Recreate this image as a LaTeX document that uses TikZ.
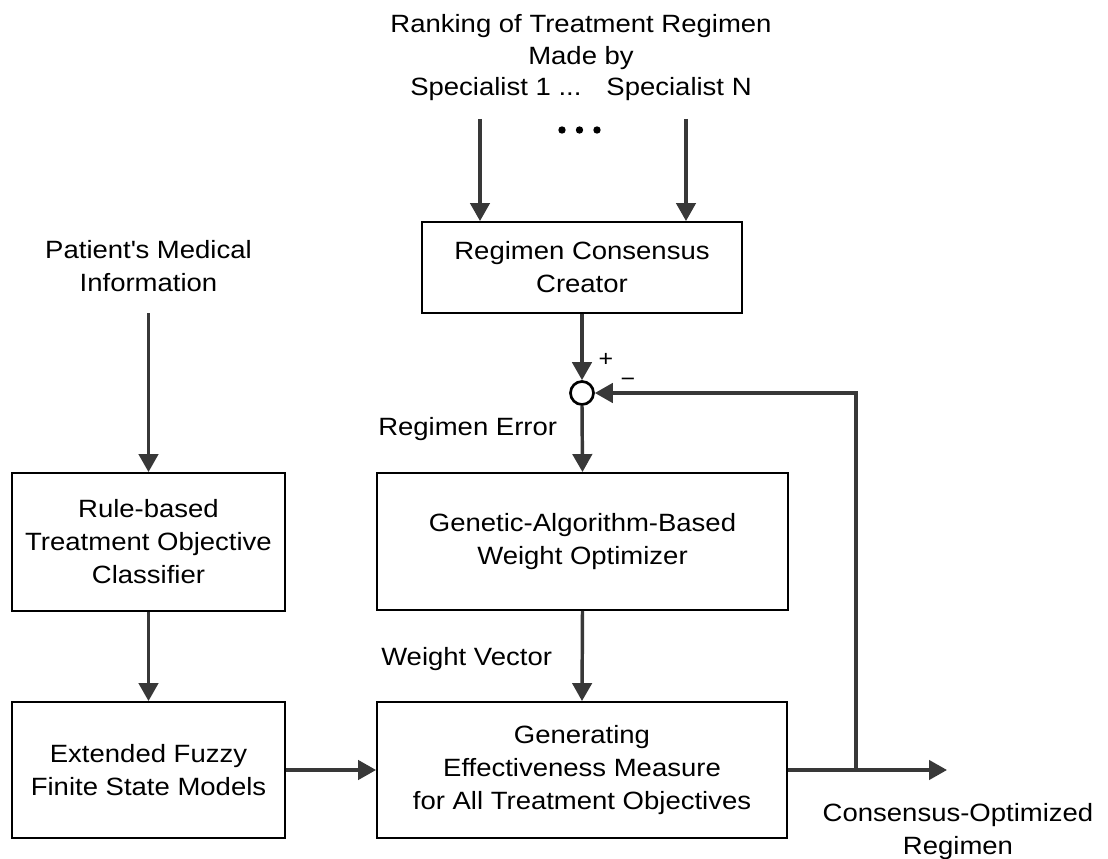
\documentclass[tikz,border=0pt]{standalone}
\usepackage{fontspec}
\setmainfont[FakeStretch=1.1]{Liberation Sans}
\usetikzlibrary{arrows.meta,positioning,calc}

\begin{document}
\begin{tikzpicture}[x=0.75pt,y=-0.75pt,
    font=\fontsize{18.75}{24.75}\selectfont,
    block/.style={draw=black, line width=1.4pt, inner sep=0pt, align=center},
    txt/.style={inner sep=0pt, align=center},
    line/.style={draw=black!78, line width=2.6pt},
    arr/.style={line, -{Triangle[length=13.5pt,width=14.5pt]}}]
  \useasboundingbox (0,0) rectangle (1108,859);

  % inputs
  \node[txt, font=\fontsize{18.75}{23.6}\selectfont] (ranking) at (581,58)
    {Ranking of Treatment Regimen\\Made by\\Specialist 1 ...\quad Specialist N};
  \node[txt] (patient) at (148.5,266.5) {Patient\textquotesingle s Medical\\Information};

  % blocks
  \node[block, minimum width=240pt, minimum height=68.25pt] (consensus) at (582,267.5)
    {Regimen Consensus\\Creator};
  \node[draw=black, line width=2pt, fill=white, circle, minimum size=17.25pt, inner sep=0pt] (sum) at (582,393) {};
  \node[block, minimum width=308.25pt, minimum height=102.75pt] (genetic) at (582.5,541.5)
    {Genetic-Algorithm-Based\\Weight Optimizer};
  \node[block, minimum width=307.5pt, minimum height=102pt] (generating) at (582,770)
    {Generating\\Effectiveness Measure\\for All Treatment Objectives};
  \node[block, minimum width=205pt, minimum height=103.5pt] (rule) at (148.5,542)
    {Rule-based\\Treatment Objective\\Classifier};
  \node[block, minimum width=205pt, minimum height=102pt] (fuzzy) at (148.5,770)
    {Extended Fuzzy\\Finite State Models};

  % labels
  \node[txt, anchor=base west] (err) at (378,436) {Regimen Error};
  \node[txt, anchor=base west] (wv) at (381,665) {Weight Vector};
  \node[txt] (result) at (958,832) {Consensus-Optimized\\Regimen};
  \node[txt, font=\fontsize{17}{20}\selectfont] (plus) at (606,360) {+};
  \node[txt, font=\fontsize{17}{20}\selectfont] (minus) at (628,382) {−};

  \foreach \x in {562,579.5,597}
    \fill (\x,130) circle (3.7);

  % connectors
  \coordinate (s1) at (480,119);
  \coordinate (sN) at (686,119);
  \coordinate (pmi) at ($(patient.south)+(0,21)$);
  \coordinate (split) at (856,770);
  \coordinate (out) at (947,770);

  \draw[arr] (s1) -- (s1 |- consensus.north);
  \draw[arr] (sN) -- (sN |- consensus.north);
  \draw[arr] (consensus.south) -- (sum.north);
  \draw[arr] (sum.south) -- (genetic.north);
  \draw[arr] (genetic.south) -- (generating.north);
  \draw[arr] (pmi) -- (rule.north);
  \draw[arr] (rule.south) -- (fuzzy.north);
  \draw[arr] (fuzzy.east) -- (generating.west);
  \draw[arr] (generating.east) -- (out);
  \draw[arr] (split) |- (sum.east);
\end{tikzpicture}
\end{document}
